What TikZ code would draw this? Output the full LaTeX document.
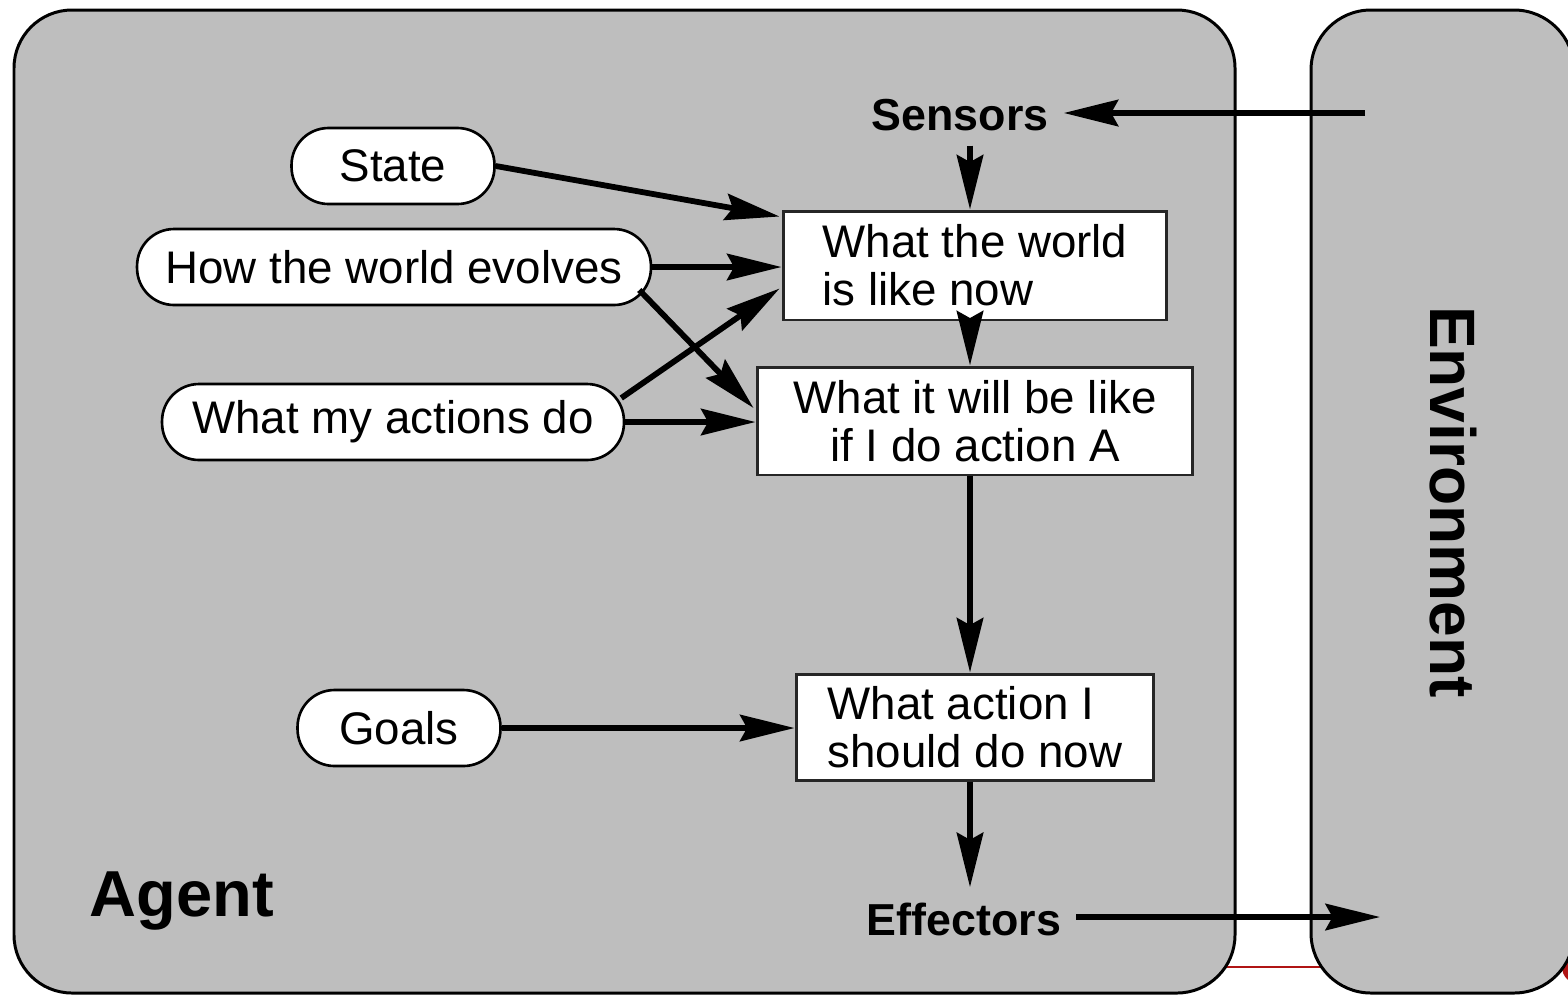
\documentclass[tikz,border=0pt]{standalone}
\usepackage{fontspec}
\setmainfont{Liberation Sans}
\usetikzlibrary{arrows.meta,calc}
\definecolor{panel}{RGB}{190,190,190}
\definecolor{redmark}{RGB}{176,20,20}
\begin{document}
\begin{tikzpicture}[x=0.02cm,y=-0.02cm,
  panelbox/.style={draw=black, line width=1.7pt, fill=panel, rounded corners=1.16cm},
  pill/.style={draw=black, line width=1.5pt, fill=white, rounded corners=0.74cm,
    minimum height=1.52cm, inner sep=0pt, font=\fontsize{26}{27}\selectfont},
  infobox/.style={draw=black!85, line width=1.7pt, fill=white, inner sep=0pt,
    font=\fontsize{26}{27.2}\selectfont},
  lbl/.style={font=\fontsize{25.5}{27}\selectfont\bfseries, inner sep=8.5pt},
  arr/.style={line width=3.3pt, -{Stealth[length=31pt,width=15pt,inset=4pt]}}]
\useasboundingbox (0,0) rectangle (1568,995);

% thin red marker line behind the panels
\draw[redmark, line width=0.9pt] (1100,967) -- (1580,967);
\fill[redmark] (1579,967) circle (17);

% agent and environment panels
\draw[panelbox] (14,10) rectangle (1235,993);
\draw[panelbox, rounded corners=1.2cm] (1311,10) rectangle (1574,993);

% knowledge pills
\node[pill, minimum width=4.06cm]  (state) at (393,166) {State};
\node[pill, minimum width=10.28cm] (how)   at (394,267) {How the world evolves};
\node[pill, minimum width=9.24cm]  (act)   at (393,422) {What my actions do};
\node[pill, minimum width=4.06cm]  (goals) at (399,728) {Goals};

% reasoning boxes
\node[infobox, minimum width=7.68cm, minimum height=2.18cm, align=left] (now) at (975,265.5)
  {What the world\\is like now};
\node[infobox, minimum width=8.72cm, minimum height=2.16cm, align=center] (will) at (975,421)
  {What it will be like\\if I do action A};
\node[infobox, minimum width=7.16cm, minimum height=2.12cm, align=left] (an) at (975,727)
  {What action I\\should do now};

% labels
\node[lbl, anchor=base] (sens) at (960,130) {Sensors};
\node[lbl, anchor=base] (eff)  at (964,935) {Effectors};
\node[font=\fontsize{37}{40}\selectfont\bfseries, anchor=base] (agent) at (182,916) {Agent};
\node[font=\fontsize{36.5}{40}\selectfont\bfseries, rotate=-90, anchor=base] (env) at (1430,502) {Environment};

\coordinate (envin)  at (1365,113);
\coordinate (envout) at (1380,917);

% connectors
\draw[arr] (envin) -- (sens.east |- envin);
\draw[arr] ([xshift=-0.1cm]sens.south -| now.north) -- ([xshift=-0.1cm]now.north);
\draw[arr] ([xshift=-0.1cm]now.south) -- ([xshift=-0.1cm]will.north);
\draw[arr] ([xshift=-0.1cm]will.south) -- ([xshift=-0.1cm]an.north);
\draw[arr] ([xshift=-0.1cm]an.south) -- ([xshift=-0.1cm]eff.north -| an.south);
\draw[arr] (eff.east |- envout) -- (envout);

\draw[arr] (state.east) -- ($(now.north west)+(-2,7)$);
\draw[arr] (how.east) -- (now.west |- how.east);
\draw[arr] ($(how.east)+(-13,23)$) -- ($(will.west)+(-2,-13)$);
\draw[arr] ($(act.east)+(-4,-24)$) -- ($(now.west)+(-2,23)$);
\draw[arr] (act.east) -- (will.west |- act.east);
\draw[arr] (goals.east) -- (an.west |- goals.east);
\end{tikzpicture}
\end{document}
